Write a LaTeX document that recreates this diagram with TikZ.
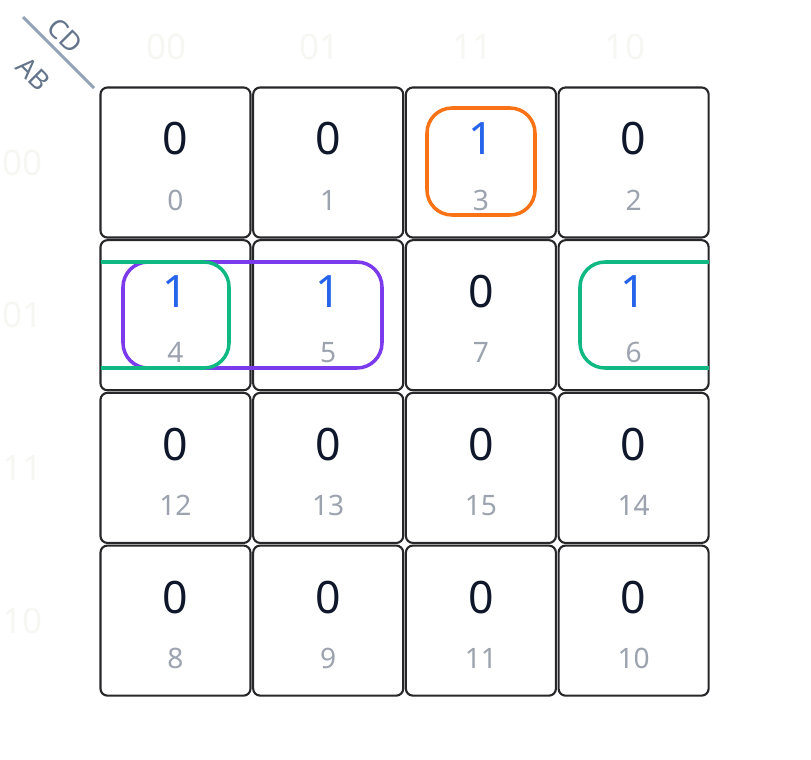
\documentclass[tikz,border=0pt]{standalone}
\usepackage{fontspec}
\setmainfont{Noto Sans}

\definecolor{cellline}{HTML}{27272A}
\definecolor{zeroink}{HTML}{0F172A}
\definecolor{oneblue}{HTML}{2563EB}
\definecolor{idxgray}{HTML}{9CA3AF}
\definecolor{headfaint}{HTML}{F6F6F3}
\definecolor{diagline}{HTML}{94A3B8}
\definecolor{diagtext}{HTML}{64748B}
\definecolor{grporange}{HTML}{F97316}
\definecolor{grppurple}{HTML}{7C3AED}
\definecolor{grpgreen}{HTML}{10B981}

\begin{document}
\begin{tikzpicture}[x=0.01cm,y=-0.01cm,
  cellbox/.style={draw=cellline, line width=0.6pt, rounded corners=2pt, minimum width=1.5cm, minimum height=1.5cm},
  bigdigit/.style={font=\fontsize{12.7}{14}\selectfont, inner sep=0pt},
  idxlabel/.style={font=\fontsize{8}{9}\selectfont, text=idxgray, inner sep=0pt},
  headlabel/.style={font=\fontsize{10}{11}\selectfont, text=headfaint, inner sep=0pt},
  varlabel/.style={font=\fontsize{7.6}{8}\selectfont, text=diagtext, rotate=-45, inner sep=0pt},
  group/.style={line width=1pt, rounded corners=0.25cm}]
\useasboundingbox (0,0) rectangle (811,760);

% corner
\draw[diagline, line width=0.85pt] (23,17) -- (94,88);
\node[varlabel] (cd) at (65,36) {CD};
\node[varlabel] (ab) at (33,74) {AB};

% gray-code headers
\foreach \code [count=\i from 0] in {00,01,11,10} {
  \node[headlabel] (top\code) at (167+152.7*\i,47) {\code};
  \node[headlabel] (left\code) at (23,162.5+152.7*\i) {\code};
}

% cells
\foreach \ab [count=\r from 0] in {0,1,3,2}
  \foreach \cd [count=\c from 0] in {0,1,3,2} {
    \pgfmathtruncatemacro\idx{4*\ab+\cd}
    \pgfmathtruncatemacro\val{(\idx==3)+(\idx==4)+(\idx==5)+(\idx==6)}
    \ifnum\val=1 \def\vcol{oneblue}\else\def\vcol{zeroink}\fi
    \node[cellbox] (c\idx) at (175.5+152.7*\c,162.5+152.7*\r) {};
    \node[bigdigit, text=\vcol] (v\idx) at ([yshift=0.235cm]c\idx.center) {\val};
    \node[idxlabel] (i\idx) at ([yshift=-0.375cm]c\idx.center) {\idx};
  }

% groups
\draw[group, grporange] (427,108) rectangle (535,215);
\draw[group, grppurple] (123,262) rectangle (382,368);
\draw[group, grpgreen] (101,262) -- (229,262) -- (229,368) -- (101,368);
\draw[group, grpgreen] (709,262) -- (580,262) -- (580,368) -- (709,368);
\end{tikzpicture}
\end{document}
